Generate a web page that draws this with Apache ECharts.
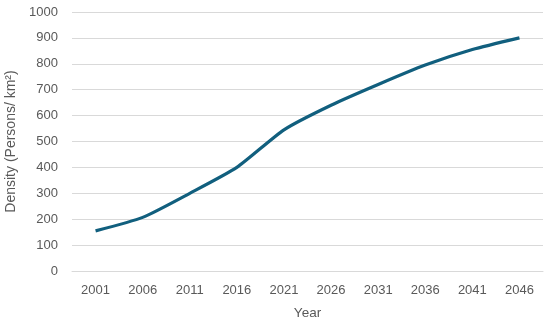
<!DOCTYPE html>
<html><head><meta charset="utf-8">
<script src="https://cdn.jsdelivr.net/npm/echarts@6/dist/echarts.min.js"></script>
<style>html,body{margin:0;padding:0;background:#fff}#c{width:550px;height:324px}</style>
</head><body><div id="c"></div>
<script>
const years = ['2001','2006','2011','2016','2021','2026','2031','2036','2041','2046'];
const density = [155, 207, 300, 400, 545, 640, 720, 795, 855, 900];
const yTicks = {min: 0, max: 1000, interval: 100};
const xTitle = 'Year';
const yTitle = 'Density (Persons/ km²)';

const chart = echarts.init(document.getElementById('c'), null, {renderer: 'canvas'});
const font = 'Liberation Sans';
chart.setOption({
  animation: false,
  grid: {left: 72, right: 7, top: 12, bottom: 53, containLabel: false, outerBoundsMode: 'none'},
  xAxis: {
    type: 'category', data: years, boundaryGap: true,
    name: xTitle, nameLocation: 'middle', nameGap: 35,
    nameTextStyle: {color: '#595959', fontSize: 13.5, fontFamily: font},
    axisLine: {show: true, lineStyle: {color: '#d9d9d9'}},
    axisTick: {show: false},
    axisLabel: {color: '#595959', fontSize: 13, fontFamily: font, margin: 13}
  },
  yAxis: {
    type: 'value', min: yTicks.min, max: yTicks.max, interval: yTicks.interval,
    name: yTitle, nameLocation: 'middle', nameGap: 51,
    nameTextStyle: {color: '#595959', fontSize: 14, fontFamily: font},
    axisLine: {show: false}, axisTick: {show: false},
    axisLabel: {color: '#595959', fontSize: 13, fontFamily: font, margin: 14,
      formatter: v => String(v)},
    splitLine: {lineStyle: {color: '#d9d9d9', width: 1}}
  },
  series: [{
    type: 'line', data: density, smooth: 0.2, symbol: 'none',
    lineStyle: {color: '#115f7e', width: 3.2}
  }]
});
</script></body></html>
